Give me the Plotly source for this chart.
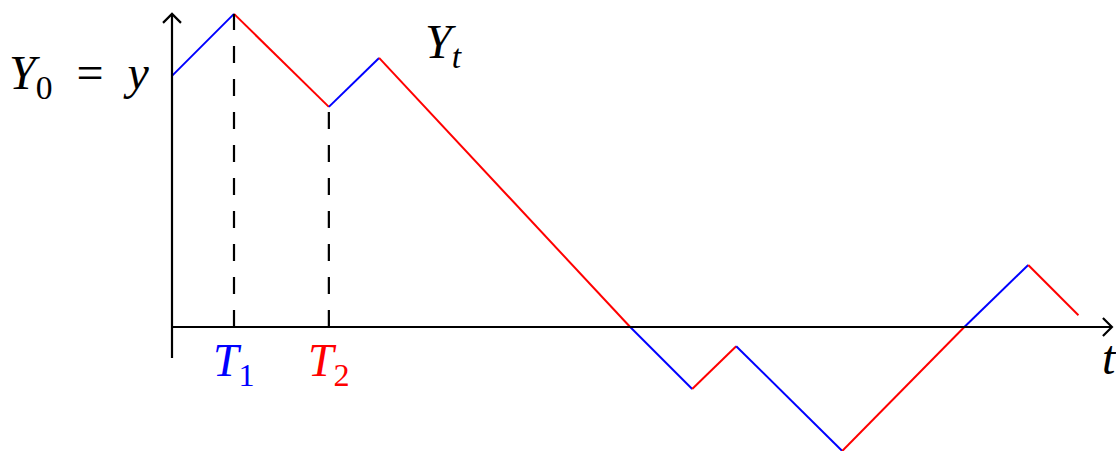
import plotly.graph_objects as go

# Sample path of Y_t (time, level); segments alternate blue / red
t_vals = [0.0, 1.0, 2.53, 3.34, 7.39, 8.39, 9.10, 10.81, 12.78, 13.81, 14.62]
y_vals = [4.05, 5.05, 3.55, 4.34, 0.0, -1.0, -0.31, -2.0, 0.0, 1.0, 0.19]
seg_colors = ["#0000ff", "#ff0000"]

# Marked times on the t-axis
mark_names = ["T", "T"]
mark_subs = ["1", "2"]
mark_index = [1, 2]
mark_colors = ["#0000ff", "#ff0000"]

W, H = 1116, 451
UNIT = 62.0          # pixels per data unit (both axes)
ORIGIN_PX = (172, 327)

x_range = [-ORIGIN_PX[0] / UNIT, (W - ORIGIN_PX[0]) / UNIT]
y_range = [-(H - ORIGIN_PX[1]) / UNIT, ORIGIN_PX[1] / UNIT]

FONT = "Liberation Serif"
FS = 48
AX_W = 2.2
fig = go.Figure()

# path segments
for i in range(len(t_vals) - 1):
    fig.add_trace(go.Scatter(
        x=[t_vals[i], t_vals[i + 1]], y=[y_vals[i], y_vals[i + 1]],
        mode="lines", line=dict(color=seg_colors[i % 2], width=2),
        hoverinfo="skip", showlegend=False))

# dashed guides down from the first two turning points
for k in mark_index:
    fig.add_trace(go.Scatter(
        x=[t_vals[k], t_vals[k]], y=[0, y_vals[k]],
        mode="lines", line=dict(color="black", width=AX_W, dash="17px,16px"),
        hoverinfo="skip", showlegend=False))

# axes
x_end = 15.16
y_top = 5.05
y_bot = -0.50
head = 0.145
fig.add_trace(go.Scatter(x=[0, x_end], y=[0, 0], mode="lines",
                         line=dict(color="black", width=AX_W), hoverinfo="skip", showlegend=False))
fig.add_trace(go.Scatter(x=[0, 0], y=[y_bot, y_top], mode="lines",
                         line=dict(color="black", width=AX_W), hoverinfo="skip", showlegend=False))
# arrow tips
fig.add_trace(go.Scatter(x=[-head, 0, head], y=[y_top - head, y_top, y_top - head], mode="lines",
                         line=dict(color="black", width=AX_W), hoverinfo="skip", showlegend=False))
fig.add_trace(go.Scatter(x=[x_end - head, x_end, x_end - head], y=[head, 0, -head], mode="lines",
                         line=dict(color="black", width=AX_W), hoverinfo="skip", showlegend=False))

annotations = [
    dict(x=0, y=y_vals[0], text="<i>Y</i><sub>0</sub>&nbsp;&nbsp;=&nbsp;&nbsp;<i>y</i>",
         xanchor="right", yanchor="middle", xshift=-20, yshift=0,
         font=dict(size=FS, color="black", family=FONT)),
    dict(x=(443 - ORIGIN_PX[0]) / UNIT, y=(ORIGIN_PX[1] - 45) / UNIT, text="<i>Y<sub>t</sub></i>",
         xanchor="center", yanchor="middle", font=dict(size=FS, color="black", family=FONT)),
    dict(x=x_end, y=0, text="<i>t</i>", xanchor="left", yanchor="top", xshift=-12, yshift=-2,
         font=dict(size=FS, color="black", family=FONT)),
]
for name, sub, k, c in zip(mark_names, mark_subs, mark_index, mark_colors):
    annotations.append(dict(x=t_vals[k], y=0, text="<i>%s</i><sub>%s</sub>" % (name, sub),
                            xanchor="center", yanchor="top", yshift=-6, xshift=0,
                            font=dict(size=FS - 2, color=c, family=FONT)))
for a in annotations:
    a["showarrow"] = False
    a["xref"] = "x"
    a["yref"] = "y"

fig.update_layout(
    width=W, height=H,
    margin=dict(l=0, r=0, t=0, b=0),
    paper_bgcolor="white", plot_bgcolor="white",
    xaxis=dict(range=x_range, visible=False, fixedrange=True),
    yaxis=dict(range=y_range, visible=False, fixedrange=True),
    annotations=annotations,
    showlegend=False,
)

fig.write_html("out.html")
